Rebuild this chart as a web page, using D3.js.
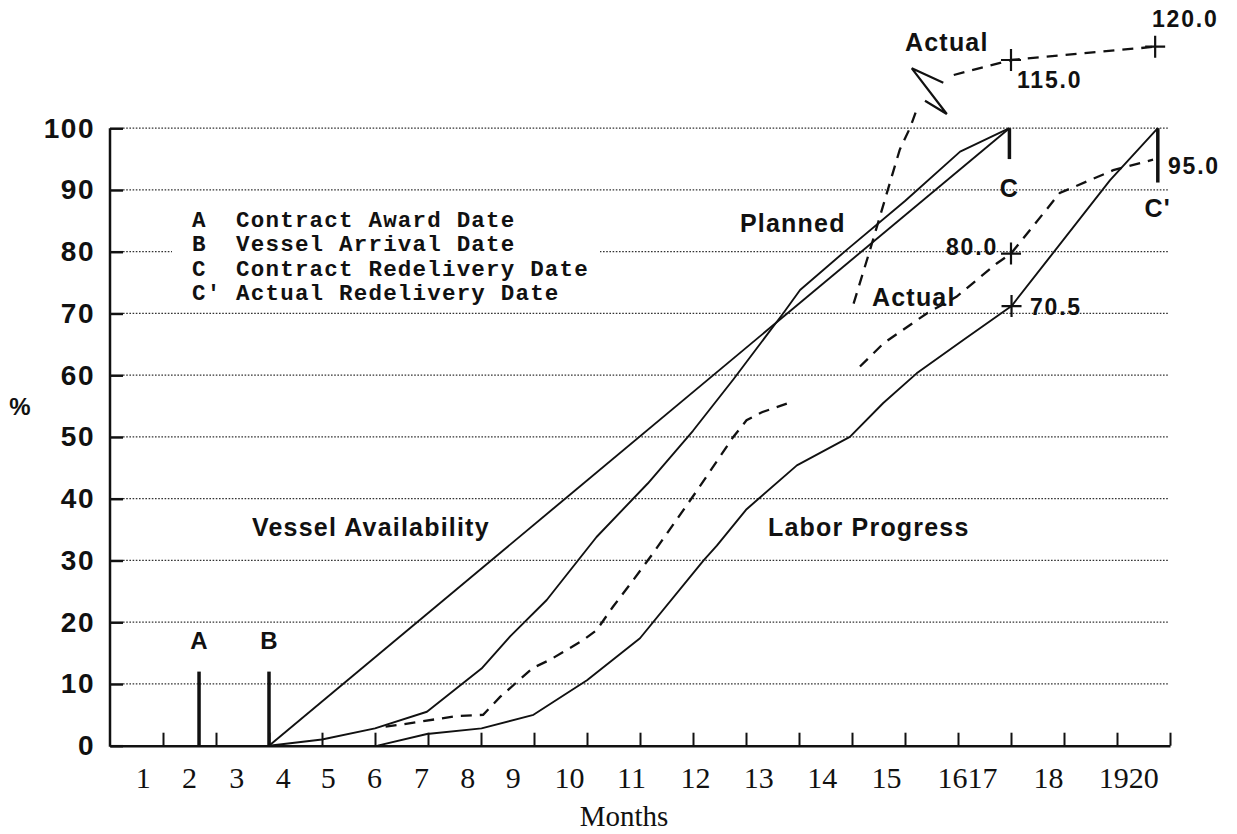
<!DOCTYPE html>
<html>
<head>
<meta charset="utf-8">
<script src="https://cdn.jsdelivr.net/npm/d3@7/dist/d3.min.js"></script>
<style>
body { margin: 0; background: #fff; }
svg { display: block; }
</style>
</head>
<body>
<div id="chart"></div>
<script>
const w = 1237;
const h = 834;
const ink = "#111";

// month labels under the axis and the month value each one sits at
const monthLabels = ["1","2","3","4","5","6","7","8","9","10","11","12","13","14","15","1617","18","1920"];
const monthLabelAt = [0.62,1.49,2.38,3.26,4.11,4.98,5.87,6.74,7.60,8.66,9.83,11.04,12.23,13.43,14.64,16.17,17.70,19.21];
const monthTicks = d3.range(1, 21);
const pctTicks = [0,10,20,30,40,50,60,70,80,90,100];

// event dates (month)
const awardMonth = 1.68;
const arrivalMonth = 3;
const contractRedelivery = 16.97;
const actualRedelivery = 19.77;

// curves as [month, %]
const vesselPlan = [[3,0],[16.97,100]];
const laborPlan = [[3,0],[4,1.0],[5,2.8],[5.98,5.5],[6.73,10.6],[7.01,12.5],[7.55,17.7],[8.24,23.6],[9.18,33.8],[10.15,42.5],[11.0,51],[11.76,59.3],[12.7,70],[13.02,73.8],[13.9,80.3],[15,88.2],[16.04,96.2],[16.97,100]];
const laborRevised = [[5.05,0],[5.98,1.9],[7.01,2.8],[7.99,5.0],[9.0,10.6],[10.0,17.4],[11.2,30],[11.45,32.4],[12.0,38.2],[12.96,45.4],[13.96,50],[14.59,55.5],[15.22,60.3],[16.1,65.7],[17.01,71.2],[17.74,79.2],[18.87,91.6],[19.77,100]];
const laborActualA = [[5.2,3.1],[5.47,3.4],[6.54,4.8],[7.04,5.0],[7.36,7.9],[7.98,12.6],[8.3,13.9],[8.93,17.1],[9.18,18.7],[9.49,22.5],[9.87,26.8],[10.25,31.2],[11.05,41],[11.76,50],[12.01,52.7],[12.3,54],[12.77,55.4]];
const laborActualB = [[14.15,61.4],[14.6,65.2],[15.41,70],[15.97,72.7],[16.73,78.1],[17.0,79.7],[17.92,89.5],[18.93,93.2],[19.68,94.9]];
const vesselActualA = [[14.03,71.6],[14.34,80.3],[14.9,96.5],[15.1,100.2],[15.23,104.4]];
const vesselActualB = [[15.92,111.7],[17.0,115],[19.72,120]];

// marked values
const markPoints = [[17.0,115],[19.72,120],[17.0,79.7],[17.01,71.2]];

const legendLines = ["A  Contract Award Date","B  Vessel Arrival Date","C  Contract Redelivery Date","C' Actual Redelivery Date"];

let svg = d3.select("#chart")
    .append("svg")
    .attr("width", w)
    .attr("height", h)
    .style("background", "#fff");

const x = d3.scaleLinear().domain([0, 20]).range([110, 1170]);
// scale is broken above 100 (see the zig-zag)
const y = d3.scaleLinear().domain([0, 100, 115, 120]).range([745.7, 128.2, 60, 46.7]);

const sans = "'Liberation Sans', Arial, sans-serif";

// dotted grid
const grid = svg.append("g");
pctTicks.slice(1).forEach(v => {
    grid.append("line")
        .attr("x1", x(0) + 13)
        .attr("x2", 1168)
        .attr("y1", y(v))
        .attr("y2", y(v))
        .attr("stroke", "#333")
        .attr("stroke-width", 1.2)
        .attr("stroke-dasharray", "1.6,1.6");
});

// legend (white box hides the grid behind it)
svg.append("rect")
    .attr("x", 172).attr("y", 203)
    .attr("width", 428).attr("height", 100)
    .attr("fill", "#fff");
legendLines.forEach((t, i) => {
    svg.append("text")
        .attr("x", 192)
        .attr("y", 227 + i * 24.3)
        .attr("font-family", "'Liberation Mono', 'Courier New', monospace")
        .attr("font-weight", "bold")
        .attr("font-size", 22.5)
        .attr("letter-spacing", 1.2)
        .attr("fill", ink)
        .style("white-space", "pre")
        .text(t);
});

// y axis
const yAxis = d3.axisLeft(y).tickValues(pctTicks).tickSizeInner(-13).tickSizeOuter(0).tickPadding(15);
const gy = svg.append("g").attr("transform", `translate(${x(0)},0)`).call(yAxis);
gy.select(".domain").remove();
gy.selectAll(".tick line").attr("stroke", ink).attr("stroke-width", 2.5);
gy.selectAll(".tick text")
    .attr("font-family", sans)
    .attr("font-weight", "bold")
    .attr("font-size", 28)
    .attr("letter-spacing", 1.5)
    .attr("fill", ink);
svg.append("line")
    .attr("x1", x(0)).attr("x2", x(0))
    .attr("y1", y(0) + 1).attr("y2", y(100))
    .attr("stroke", ink).attr("stroke-width", 2.5);

// x axis with inward ticks
const xAxis = d3.axisBottom(x).tickValues(monthTicks).tickSizeInner(-13).tickSizeOuter(0).tickFormat("");
const gx = svg.append("g").attr("transform", `translate(0,${y(0)})`).call(xAxis);
gx.select(".domain").attr("stroke", ink).attr("stroke-width", 2.5);
gx.selectAll(".tick line").attr("stroke", ink).attr("stroke-width", 2);

const xLabels = d3.axisBottom(x).tickValues(monthLabelAt).tickSize(0).tickPadding(21)
    .tickFormat((d, i) => monthLabels[i]);
const gxl = svg.append("g").attr("transform", `translate(0,${y(0)})`).call(xLabels);
gxl.select(".domain").remove();
gxl.selectAll(".tick text")
    .attr("font-family", "'Liberation Serif', 'Times New Roman', serif")
    .attr("font-size", 30)
    .attr("fill", ink);

svg.append("text")
    .attr("x", 624).attr("y", 826)
    .attr("text-anchor", "middle")
    .attr("font-family", "'Liberation Serif', 'Times New Roman', serif")
    .attr("font-size", 29)
    .attr("fill", ink)
    .text("Months");

svg.append("text")
    .attr("x", 20).attr("y", 415)
    .attr("text-anchor", "middle")
    .attr("font-family", sans)
    .attr("font-weight", "bold")
    .attr("font-size", 24)
    .attr("fill", ink)
    .text("%");

// A / B event bars
[[awardMonth, "A"], [arrivalMonth, "B"]].forEach(d => {
    svg.append("line")
        .attr("x1", x(d[0])).attr("x2", x(d[0]))
        .attr("y1", y(0)).attr("y2", y(12))
        .attr("stroke", ink).attr("stroke-width", 3.5);
    svg.append("text")
        .attr("x", x(d[0])).attr("y", y(17) + 8)
        .attr("text-anchor", "middle")
        .attr("font-family", sans).attr("font-weight", "bold")
        .attr("font-size", 24).attr("fill", ink)
        .text(d[1]);
});

// C / C' bars
svg.append("line")
    .attr("x1", x(contractRedelivery)).attr("x2", x(contractRedelivery))
    .attr("y1", y(100)).attr("y2", y(95))
    .attr("stroke", ink).attr("stroke-width", 3.5);
svg.append("line")
    .attr("x1", x(actualRedelivery)).attr("x2", x(actualRedelivery))
    .attr("y1", y(100)).attr("y2", y(91.2))
    .attr("stroke", ink).attr("stroke-width", 3.5);

// curves
const line = d3.line().x(d => x(d[0])).y(d => y(d[1]));
[vesselPlan, laborPlan, laborRevised].forEach(s => {
    svg.append("path")
        .attr("d", line(s))
        .attr("fill", "none")
        .attr("stroke", ink)
        .attr("stroke-width", 1.9)
        .attr("stroke-linejoin", "round");
});
[laborActualA, laborActualB, vesselActualA, vesselActualB].forEach(s => {
    svg.append("path")
        .attr("d", line(s))
        .attr("fill", "none")
        .attr("stroke", ink)
        .attr("stroke-width", 2.3)
        .attr("stroke-dasharray", "11,8");
});

// scale break mark
const bx = x(15.6), by = y(110);
svg.append("path")
    .attr("d", `M${bx + 6.5},${by} L${bx - 25},${by - 14.4} L${bx + 10},${by + 31.3} L${bx - 11.8},${by + 18}`)
    .attr("fill", "none")
    .attr("stroke", ink)
    .attr("stroke-width", 2.2);

// + markers
markPoints.forEach(p => {
    const cx = x(p[0]), cy = y(p[1]);
    svg.append("path")
        .attr("d", `M${cx - 10},${cy} H${cx + 10} M${cx},${cy - 11} V${cy + 11}`)
        .attr("stroke", ink)
        .attr("stroke-width", 2.2);
});

// annotations
function label(t, px, py, size, anchor) {
    svg.append("text")
        .attr("x", px).attr("y", py)
        .attr("text-anchor", anchor || "start")
        .attr("font-family", sans)
        .attr("font-weight", "bold")
        .attr("font-size", size)
        .attr("letter-spacing", 1.2)
        .attr("fill", ink)
        .text(t);
}
label("Vessel Availability", 252, 536, 25);
label("Labor Progress", 768, 536, 25);
label("Planned", 740, 232, 25);
label("Actual", 872, 306, 25);
label("Actual", 905, 51, 25);
label("C", x(contractRedelivery), 197, 25, "middle");
label("C'", x(actualRedelivery), 217, 25, "middle");

function num(t, px, py, anchor) {
    svg.append("text")
        .attr("x", px).attr("y", py)
        .attr("text-anchor", anchor || "start")
        .attr("font-family", sans)
        .attr("font-weight", "bold")
        .attr("font-size", 23)
        .attr("letter-spacing", 1.8)
        .attr("fill", ink)
        .text(t);
}
num("120.0", 1152, 27);
num("115.0", 1017, 88);
num("95.0", 1168, 174);
num("80.0", 998, 255, "end");
num("70.5", 1030, 315);
</script>
</body>
</html>
